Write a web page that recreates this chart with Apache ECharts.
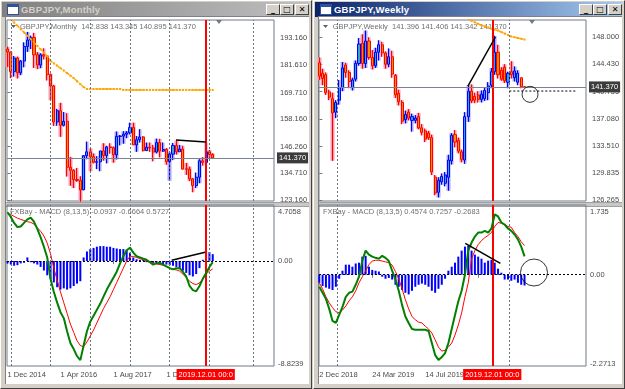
<!DOCTYPE html>
<html>
<head>
<meta charset="utf-8">
<script src="https://cdn.jsdelivr.net/npm/echarts@6/dist/echarts.min.js"></script>
<style>
  html, body { margin: 0; padding: 0; width: 625px; height: 389px; overflow: hidden; background: #d4d0c8; }
  .win { position: absolute; top: 0; height: 389px; box-sizing: border-box; background: #d4d0c8;
         border: 1px solid; border-color: #ffffff #404040 #404040 #ffffff; }
  .tbar { position: absolute; left: 1px; top: 1px; height: 15px; }
  .tbar.inactive { background: linear-gradient(to right, #808080, #c0c0c0); color: #d4d0c8; }
  .tbar.active { background: linear-gradient(to right, #0a246a, #a6caf0); color: #ffffff; }
  .tbar span { position: absolute; left: 19px; top: 0; font: bold 9.5px "Liberation Sans", Arial, sans-serif; line-height: 15px; letter-spacing: 0.2px; }
  .ico { position: absolute; left: 5px; top: 2px; width: 10px; height: 9px; background: #ffffff; border: 1px solid #3050a0; }
  .ico:before { content: ""; position: absolute; left: 0; top: 0; right: 0; height: 2px; background: #3050a0; }
  .btn { position: absolute; top: 2px; width: 12px; height: 9px; background: #d4d0c8; border: 1px solid;
         border-color: #ffffff #404040 #404040 #ffffff; color: #000; font: bold 8px "DejaVu Sans", sans-serif;
         line-height: 9px; text-align: center; }
  .client { position: absolute; left: 4px; top: 15px; background: #ffffff; box-sizing: border-box;
            border-top: 1px solid #808080; border-left: 1px solid #808080; }
  .sep { position: absolute; height: 3px; background: #c8c8c8; border-top: 1px solid #a0a0a0; border-bottom: 1px solid #a0a0a0; }
  #chart { position: absolute; left: 0; top: 0; width: 625px; height: 389px; }
</style>
</head>
<body>
<div class="win" style="left:0;width:312px">
  <div class="tbar inactive" style="width:307px"><div class="ico"></div><span>GBPJPY,Monthly</span>
    <div class="btn" style="left:264px">_</div><div class="btn" style="left:278px">□</div><div class="btn" style="left:293px">✕</div>
  </div>
  <div class="client" style="width:304px;height:368px"></div>
  <div class="sep" style="left:5px;top:201px;width:303px"></div>
</div>
<div class="win" style="left:313px;width:312px">
  <div class="tbar active" style="width:307px"><div class="ico"></div><span>GBPJPY,Weekly</span>
    <div class="btn" style="left:264px">_</div><div class="btn" style="left:278px">□</div><div class="btn" style="left:293px">✕</div>
  </div>
  <div class="client" style="width:304px;height:368px"></div>
  <div class="sep" style="left:5px;top:201px;width:303px"></div>
</div>
<div id="chart"></div>
<script>
// ---- monthly GBPJPY, Dec 2014 .. Feb 2020: [open, high, low, close]
const monthlyOHLC = [
  [188.5,189.5,180.7,187.2],[187.2,187.4,175.9,178.7],[178.7,185.5,176.6,184.6],[184.6,185.2,175.8,178.2],
  [178.2,183.8,177.2,183.3],[183.3,191.4,180.6,189.6],[189.6,195.9,187.3,192.4],[192.4,194.3,188.5,193.5],
  [193.5,195.5,180.3,186.0],[186.0,187.2,179.8,181.6],[181.6,186.7,180.2,186.0],[186.0,188.8,184.0,185.4],
  [185.4,185.9,174.9,177.4],[177.4,177.9,166.3,172.5],[172.5,173.0,155.2,156.9],[156.9,162.6,155.3,161.8],
  [161.8,165.2,150.5,155.5],[155.5,161.2,155.0,157.2],[157.2,160.7,133.3,137.3],[137.3,141.8,129.3,136.0],
  [136.0,136.4,128.3,132.0],[132.0,137.0,131.0,131.6],[131.6,133.4,122.4,127.5],[127.5,142.6,127.7,142.3],
  [142.3,148.4,140.8,144.0],[144.0,145.5,135.6,141.9],[141.9,143.3,139.0,139.5],[139.5,142.1,136.5,139.7],
  [139.7,144.4,135.6,144.4],[144.4,147.7,140.2,142.4],[142.4,146.6,139.0,146.1],[146.1,147.7,143.2,145.8],
  [145.8,146.3,139.3,142.7],[142.7,152.8,140.7,150.7],[150.7,151.3,146.8,150.8],[150.8,152.9,147.5,151.6],
  [151.6,153.0,149.9,152.2],[152.2,156.6,151.5,154.5],[154.5,156.6,146.9,147.0],[147.0,150.8,144.0,149.2],
  [149.2,153.8,148.0,150.4],[150.4,150.8,144.2,144.5],[144.5,148.0,144.4,146.0],[146.0,148.0,144.0,145.7],
  [145.7,147.0,139.9,143.9],[143.9,149.7,143.3,148.0],[148.0,149.6,141.6,144.3],[144.3,148.0,143.9,145.0],
  [145.0,145.6,138.4,139.8],[139.8,144.0,131.5,143.0],[143.0,147.8,140.4,146.7],[146.7,148.9,142.8,144.0],
  [144.0,147.0,144.0,145.2],[145.2,146.6,136.4,136.5],[136.6,139.2,134.0,136.5],[136.5,137.6,131.3,132.3],
  [132.3,132.7,126.5,129.4],[129.4,135.0,128.3,133.0],[133.0,140.8,130.4,140.1],[140.1,141.7,138.0,139.4],
  [139.4,147.95,139.3,144.0],[144.0,144.8,141.0,142.8],[142.838,143.345,140.895,141.370]
];
const monthlyMA = [
  203.0,201.5,200.0,198.6,197.1,195.7,194.2,192.8,191.3,189.9,188.4,187.0,185.5,183.3,182.3,181.3,
  180.2,179.2,178.1,177.0,175.9,174.6,173.3,172.0,171.2,171.2,171.2,171.2,171.2,171.2,171.2,171.2,
  171.2,171.2,171.2,170.8,170.8,170.8,170.8,170.8,170.8,170.8,170.8,170.8,170.8,170.8,170.8,170.8,
  170.8,170.8,170.8,170.8,170.8,170.8,170.8,170.8,170.8,170.8,170.8,170.8,170.8,170.8,170.8
];
const monthlyMacd = [
  4.1,3.7,3.2,2.85,2.9,3.2,3.5,3.65,3.3,2.7,2.0,1.2,0.3,-1.5,-2.6,-3.5,
  -4.3,-4.8,-5.9,-6.9,-7.4,-8.0,-8.33,-7.1,-5.9,-5.1,-4.6,-4.1,-3.6,-3.0,-2.4,-1.9,
  -1.4,-0.9,-0.2,0.4,0.9,1.12,0.7,0.4,0.3,0.2,0.1,-0.1,-0.3,-0.2,-0.15,-0.3,
  -0.45,-0.6,-0.7,-0.6,-0.6,-0.9,-1.3,-2.1,-2.45,-2.55,-2.1,-1.5,-1.0,-0.5,-0.0937
];
const monthlySignal = [
  4.0,3.9,3.75,3.6,3.5,3.4,3.3,3.25,3.1,2.8,2.5,2.1,1.5,0.6,-0.6,-1.6,
  -2.6,-3.5,-4.4,-5.3,-6.0,-6.7,-7.1,-7.2,-6.8,-6.3,-5.8,-5.2,-4.6,-4.0,-3.5,-3.0,
  -2.4,-1.8,-1.2,-0.6,0.0,0.4,0.38,0.3,0.2,0.1,0.0,-0.05,-0.15,-0.25,-0.3,-0.35,
  -0.45,-0.6,-0.7,-0.75,-0.85,-1.1,-1.4,-1.7,-1.9,-1.98,-1.85,-1.5,-1.1,-0.85,-0.6664
];
const monthlyHist = [
  -0.2,-0.3,-0.4,-0.35,-0.2,-0.15,0.3,-0.1,-0.2,-0.3,-0.5,-0.8,-1.2,-1.5,-1.8,-2.2,
  -2.4,-2.3,-2.4,-2.3,-2.1,-1.9,-1.7,0.3,0.8,1.0,1.1,1.2,1.25,1.25,1.2,1.2,
  1.1,1.05,1.0,1.0,0.95,0.7,0.3,0.15,0.1,0.1,-0.1,-0.15,-0.2,-0.25,-0.3,-0.25,
  -0.3,-0.35,-0.4,-0.5,-0.6,-0.8,-1.0,-1.2,-1.3,-1.1,-0.6,0.1,0.8,0.75,0.5727
];

// ---- weekly GBPJPY, 2 Dec 2018 .. 2 Feb 2020: [open, high, low, close]
const weeklyOHLC = [
  [144.6,145.3,142.3,142.8],[143.2,143.8,141.6,142.5],[143.0,143.3,140.3,140.6],[140.7,141.0,139.6,140.0],
  [139.8,140.6,131.5,137.9],[138.0,139.6,137.2,139.3],[139.6,142.3,139.0,141.3],[141.3,144.7,140.8,143.9],
  [144.3,144.6,142.6,143.3],[143.3,143.6,141.2,142.1],[141.3,142.6,140.9,142.3],[142.4,144.9,142.1,144.5],
  [144.5,147.9,144.2,147.1],[147.2,148.4,143.8,144.5],[144.5,148.9,143.9,147.5],[147.5,148.0,145.0,145.3],
  [145.3,146.3,143.7,144.2],[144.2,146.6,143.9,146.0],[146.0,147.6,144.9,147.0],[147.0,147.4,145.4,145.9],
  [145.9,146.1,143.8,144.4],[144.4,146.5,144.0,145.4],[145.4,146.2,142.6,143.1],[142.9,143.1,139.9,140.3],
  [140.5,141.0,138.9,139.4],[139.3,139.6,136.4,136.8],[137.0,138.2,136.5,137.7],[138.0,138.4,136.9,137.2],
  [136.9,137.8,135.4,137.4],[136.9,137.6,136.5,137.2],[137.4,137.9,135.7,135.9],[135.9,136.4,134.9,135.3],
  [135.5,135.8,134.0,134.4],[135.2,135.5,134.3,134.6],[134.6,135.0,129.6,130.0],[129.3,129.6,126.9,127.2],
  [127.3,129.3,126.6,128.9],[128.7,129.8,128.3,129.4],[128.5,130.0,128.1,129.6],[129.3,132.3,127.5,131.6],
  [131.5,135.2,131.0,134.9],[135.0,135.6,133.3,134.0],[134.2,134.6,132.5,132.8],[132.7,133.0,131.3,131.7],
  [131.6,138.0,131.1,137.4],[137.4,141.6,136.7,140.8],[140.8,141.7,139.2,139.5],[140.1,140.6,139.2,139.6],
  [140.3,140.8,139.3,139.7],[139.7,140.9,139.3,140.4],[139.8,141.3,139.5,140.9],[140.6,142.0,139.6,141.5],
  [141.6,143.9,141.2,143.4],[143.4,148.2,143.0,146.0],[146.0,147.0,142.5,143.0],[143.6,144.0,142.2,142.4],
  [144.0,144.4,141.9,142.2],[142.0,143.4,141.2,143.2],[143.4,144.8,142.5,143.0],[142.6,144.1,142.1,143.5],
  [142.0,143.6,141.6,143.2],[142.6,142.6,141.2,141.4],[141.396,141.406,141.342,141.370]
];
const weeklyMAStart = 45;
const weeklyMA = [150.45,150.2,150.0,149.8,149.6,149.45,149.3,149.15,149.0,148.9,148.7,148.5,148.3,148.1,148.0,147.9,147.8,147.7];
const weeklyMacd = [
  -0.3,-0.45,-0.6,-0.85,-1.15,-1.2,-1.0,-0.8,-0.55,-0.45,-0.42,-0.25,-0.05,0.35,0.6,0.5,
  0.45,0.42,0.4,0.47,0.42,0.34,0.1,-0.12,-0.4,-0.75,-1.04,-1.2,-1.35,-1.37,-1.37,-1.37,
  -1.37,-1.4,-1.7,-2.0,-2.12,-2.05,-1.95,-1.7,-1.35,-1.0,-0.66,-0.4,0.0,0.6,0.8,0.95,
  1.05,1.05,1.09,1.05,1.15,1.5,1.45,1.3,1.25,1.15,1.09,1.0,0.88,0.7,0.4574
];
const weeklySignal = [
  -0.2,-0.35,-0.55,-0.7,-0.82,-0.92,-0.95,-0.88,-0.78,-0.65,-0.55,-0.4,-0.2,-0.05,0.1,0.25,
  0.34,0.36,0.36,0.34,0.32,0.3,0.24,0.08,-0.1,-0.35,-0.62,-0.85,-1.04,-1.12,-1.18,-1.2,
  -1.28,-1.35,-1.45,-1.62,-1.8,-1.9,-1.88,-1.8,-1.7,-1.5,-1.25,-0.95,-0.55,-0.2,0.4,0.6,
  0.75,0.85,0.92,0.98,1.05,1.2,1.3,1.28,1.24,1.2,1.18,1.05,0.95,0.82,0.7257
];
const weeklyHist = [
  -0.2,-0.28,-0.32,-0.35,-0.38,-0.3,-0.1,0.1,0.25,0.25,0.2,0.28,0.3,0.45,0.47,0.2,
  0.12,0.1,0.08,-0.05,-0.1,-0.08,-0.12,-0.25,-0.3,-0.38,-0.45,-0.49,-0.4,-0.3,-0.25,-0.22,
  -0.25,-0.3,-0.4,-0.45,-0.35,-0.25,-0.1,0.1,0.2,0.3,0.45,0.6,0.7,0.72,0.6,0.5,
  0.45,0.4,0.3,0.35,0.37,0.3,0.15,0.05,-0.12,-0.12,-0.15,-0.12,-0.2,-0.25,-0.2683
];

// ---- axes text
const monthlyTimeIdx = [0, 16, 32, 48];
const monthlyTimeLabels = ['1 Dec 2014', '1 Apr 2016', '1 Aug 2017', '1 Dec 2018'];
const weeklyTimeIdx = [0, 16, 32, 48];
const weeklyTimeLabels = ['2 Dec 2018', '24 Mar 2019', '14 Jul 2019', '3 Nov 2019'];
const monthlyPriceTicks = [123.16, 134.71, 146.26, 158.16, 169.71, 181.61, 193.16];
const weeklyPriceTicks = [126.265, 129.835, 133.51, 137.08, 140.755, 144.43, 148.0];
const monthlyMacdTicks = [-8.8239, 0, 4.7058];
const monthlyMacdLabels = ['-8.8239', '0.00', '4.7058'];
const weeklyMacdTicks = [-2.2713, 0, 1.735];
const weeklyMacdLabels = ['-2.2713', '0.00', '1.735'];
const lastPrice = 141.370;

// ---- drawn objects (index, value)
const monthlyGridIdx = [1, 13, 25, 37, 49, 61, 74.2];
const weeklyGridIdx = [5.44, 57.4];
const monthlyMarkIdx = 59.88;
const weeklyMarkIdx = 52.25;
const monthlyPriceTrend = [[50.9, 149.1], [59.9, 148.3]];
const monthlyMacdTrend = [[49.6, 0.06], [59.7, 0.73]];
const weeklyPriceTrend = [[44.9, 141.49], [53.2, 148.04]];
const weeklyMacdTrend = [[44.1, 0.78], [54.7, 0.28]];
const weeklyPriceDash = [[57.4, 140.82], [77.8, 140.82]];
const weeklyPriceCircle = [63.66, 140.38];
const weeklyMacdCircle = [64.86, 0.055];

const FONT = '"Liberation Sans", Arial, sans-serif';
const TXT = '#4a4a4a';
const BULL = '#0000ff', BEAR = '#ff0000';

const chart = echarts.init(document.getElementById('chart'));

function candles(rows) {
  return rows.map((r, i) => [i, r[0], r[3], r[2], r[1]]);
}
function ranges(rows) {
  return rows.map((r, i) => r[3] >= r[0] ? [i, r[2], r[1], r[2], r[1]] : [i, r[1], r[2], r[2], r[1]]);
}
function indexed(arr, start) {
  return arr.map((v, i) => [i + (start || 0), v]);
}
function lookup(ticks, labels) {
  return v => {
    for (let j = 0; j < ticks.length; j++) if (Math.abs(ticks[j] - v) < 1e-6) return labels[j];
    return '';
  };
}

const grids = [
  { left: 7, top: 20, width: 267, height: 181 },
  { left: 7, top: 205, width: 267, height: 161 },
  { left: 319, top: 20, width: 267, height: 181 },
  { left: 319, top: 205, width: 267, height: 161 }
].map(g => Object.assign({ show: true, borderColor: '#707888', borderWidth: 1, backgroundColor: 'transparent' }, g));

function xAxis(gridIndex, min, idx, labels) {
  const hasLabels = !!idx;
  return {
    type: 'value', gridIndex, min, max: min + 80.66,
    axisLine: { show: false }, splitLine: { show: false },
    axisTick: hasLabels ? { show: true, length: 3, customValues: idx, lineStyle: { color: '#707888' } } : { show: false },
    axisLabel: hasLabels ? {
      show: true, customValues: idx, align: 'left', margin: 5, fontSize: 7.5, fontFamily: FONT, color: TXT,
      formatter: lookup(idx, labels)
    } : { show: false }
  };
}
function priceAxis(gridIndex, min, max, ticks) {
  return {
    type: 'value', gridIndex, min, max, position: 'right',
    axisLine: { show: false }, splitLine: { show: false },
    axisTick: { show: true, length: 3, customValues: ticks, lineStyle: { color: '#707888' } },
    axisLabel: { customValues: ticks, margin: 6, fontSize: 7.5, fontFamily: FONT, color: TXT,
      formatter: v => v.toFixed(3) }
  };
}
function macdAxis(gridIndex, ticks, labels) {
  const f = lookup(ticks, labels);
  return {
    type: 'value', gridIndex, min: ticks[0], max: ticks[2], position: 'right',
    axisLine: { show: false }, splitLine: { show: false }, axisTick: { show: false },
    axisLabel: { customValues: ticks, margin: 4, fontSize: 7.5, fontFamily: FONT, color: TXT,
      formatter: v => v === ticks[2] ? '{t|' + f(v) + '}' : v === ticks[0] ? '{b|' + f(v) + '}' : f(v),
      rich: {
        t: { padding: [13, 0, 0, 0], fontSize: 7.5, fontFamily: FONT, color: TXT },
        b: { padding: [0, 0, 4, 0], fontSize: 7.5, fontFamily: FONT, color: TXT }
      } }
  };
}

const gridLineStyle = { color: '#6a7282', width: 1, type: [2, 2] };
function vlines(x, y, idx, redIdx, withLabel) {
  const data = idx.map(v => ({ xAxis: v, lineStyle: gridLineStyle }));
  data.push({ xAxis: redIdx, lineStyle: { color: '#ff0000', width: 2, type: 'solid' },
    label: withLabel ? {
      show: true, position: 'start', distance: 3, formatter: '2019.12.01 00:0',
      backgroundColor: '#ff0000', color: '#ffffff', padding: [2, 2, 1, 2],
      fontSize: 7.5, fontFamily: FONT
    } : { show: false } });
  return {
    type: 'line', xAxisIndex: x, yAxisIndex: y, data: [], z: 1, silent: true,
    markLine: { symbol: 'none', silent: true, animation: false, label: { show: false }, data }
  };
}
function candleSeries(x, y, rows) {
  return [
    { type: 'candlestick', xAxisIndex: x, yAxisIndex: y, data: ranges(rows), encode: { x: 0, y: [1, 2, 3, 4] },
      barWidth: 4, z: 2, silent: true,
      itemStyle: { color: '#a8a4f0', color0: '#f49cb0', borderColor: '#a8a4f0', borderColor0: '#f49cb0', borderWidth: 0 } },
    { type: 'candlestick', xAxisIndex: x, yAxisIndex: y, data: candles(rows), encode: { x: 0, y: [1, 2, 3, 4] },
      barWidth: 2.6, z: 3, silent: true,
      itemStyle: { color: '#30a8c8', color0: '#ff8c00', borderColor: BULL, borderColor0: BEAR, borderWidth: 1 } }
  ];
}
function priceLine(x, y) {
  return {
    type: 'line', xAxisIndex: x, yAxisIndex: y, data: [], z: 1, silent: true,
    markLine: { symbol: 'none', silent: true, animation: false,
      lineStyle: { color: '#7a8290', width: 1, type: 'solid' },
      label: { show: true, position: 'end', distance: 3, formatter: lastPrice.toFixed(3),
        backgroundColor: '#3c3c3c', color: '#ffffff', padding: [2, 2, 1, 2], fontSize: 7.5, fontFamily: FONT },
      data: [{ yAxis: lastPrice }] }
  };
}
function zeroLine(x, y) {
  return {
    type: 'line', xAxisIndex: x, yAxisIndex: y, data: [], z: 1, silent: true,
    markLine: { symbol: 'none', silent: true, animation: false, label: { show: false },
      lineStyle: { color: '#000000', width: 1, type: [2, 2] }, data: [{ yAxis: 0 }] }
  };
}
function line(x, y, data, color, width, z, type) {
  return { type: 'line', xAxisIndex: x, yAxisIndex: y, data, showSymbol: false, z: z || 4, silent: true,
    lineStyle: { color, width, type: type || 'solid' }, itemStyle: { color } };
}
function maLine(x, y, data) {
  return { type: 'line', xAxisIndex: x, yAxisIndex: y, data, z: 4, silent: true,
    symbol: 'rect', symbolSize: 2, itemStyle: { color: '#ffa500' },
    lineStyle: { color: '#ffa500', width: 1.5, type: [2, 1] } };
}
function hist(x, y, data) {
  return { type: 'bar', xAxisIndex: x, yAxisIndex: y, data, barWidth: 2, z: 2, silent: true,
    itemStyle: { color: '#0000ff' } };
}
function circle(x, y, c, size) {
  return { type: 'scatter', xAxisIndex: x, yAxisIndex: y, data: [c], symbol: 'circle', symbolSize: size, z: 6, silent: true,
    itemStyle: { color: 'rgba(0,0,0,0)', borderColor: '#000000', borderWidth: 1 } };
}

const option = {
  animation: false,
  grid: grids,
  xAxis: [
    xAxis(0, -0.151), xAxis(1, -0.151, monthlyTimeIdx, monthlyTimeLabels),
    xAxis(2, -0.09), xAxis(3, -0.09, weeklyTimeIdx, weeklyTimeLabels)
  ],
  yAxis: [
    priceAxis(0, 122.7, 201.08, monthlyPriceTicks),
    macdAxis(1, monthlyMacdTicks, monthlyMacdLabels),
    priceAxis(2, 126.13, 150.31, weeklyPriceTicks),
    macdAxis(3, weeklyMacdTicks, weeklyMacdLabels)
  ],
  series: [
    // monthly price
    vlines(0, 0, monthlyGridIdx, monthlyMarkIdx, false),
    priceLine(0, 0),
    ...candleSeries(0, 0, monthlyOHLC),
    maLine(0, 0, indexed(monthlyMA)),
    line(0, 0, monthlyPriceTrend, '#000000', 1.5, 5),
    // monthly macd
    vlines(1, 1, monthlyGridIdx, monthlyMarkIdx, true),
    zeroLine(1, 1),
    hist(1, 1, indexed(monthlyHist)),
    line(1, 1, indexed(monthlySignal), '#ff0000', 1, 4),
    line(1, 1, indexed(monthlyMacd), '#008000', 2, 5),
    line(1, 1, monthlyMacdTrend, '#000000', 1.5, 6),
    // weekly price
    vlines(2, 2, weeklyGridIdx, weeklyMarkIdx, false),
    priceLine(2, 2),
    ...candleSeries(2, 2, weeklyOHLC),
    maLine(2, 2, indexed(weeklyMA, weeklyMAStart)),
    line(2, 2, weeklyPriceTrend, '#000000', 1.5, 5),
    line(2, 2, weeklyPriceDash, '#000000', 1, 5, [2, 2]),
    circle(2, 2, weeklyPriceCircle, 16),
    // weekly macd
    vlines(3, 3, weeklyGridIdx, weeklyMarkIdx, true),
    zeroLine(3, 3),
    hist(3, 3, indexed(weeklyHist)),
    line(3, 3, indexed(weeklySignal), '#ff0000', 1, 4),
    line(3, 3, indexed(weeklyMacd), '#008000', 2, 5),
    line(3, 3, weeklyMacdTrend, '#000000', 1.5, 6),
    circle(3, 3, weeklyMacdCircle, 27)
  ],
  graphic: [
    { type: 'polygon', shape: { points: [[11, 25], [16, 25], [13.5, 28]] }, style: { fill: '#606060' } },
    { type: 'text', x: 20, y: 27, style: { text: 'GBPJPY,Monthly  142.838 143.345 140.895 141.370', fill: '#707070', fontSize: 7.5, fontFamily: FONT, verticalAlign: 'middle' } },
    { type: 'text', x: 10, y: 212, style: { text: 'FXBay - MACD (8,13,5) -0.0937 -0.6664 0.5727', fill: '#707070', fontSize: 7.5, fontFamily: FONT, verticalAlign: 'middle' } },
    { type: 'polygon', shape: { points: [[216, 20], [222, 20], [219, 24]] }, style: { fill: '#707888' } },
    { type: 'polygon', shape: { points: [[323, 25], [328, 25], [325.5, 28]] }, style: { fill: '#606060' } },
    { type: 'text', x: 332.7, y: 27, style: { text: 'GBPJPY,Weekly  141.396 141.406 141.342 141.370', fill: '#707070', fontSize: 7.5, fontFamily: FONT, verticalAlign: 'middle' } },
    { type: 'text', x: 323, y: 212, style: { text: 'FXBay - MACD (8,13,5) 0.4574 0.7257 -0.2683', fill: '#707070', fontSize: 7.5, fontFamily: FONT, verticalAlign: 'middle' } },
    { type: 'polygon', shape: { points: [[529, 20], [535, 20], [532, 24]] }, style: { fill: '#707888' } }
  ]
};
chart.setOption(option);
</script>
</body>
</html>
